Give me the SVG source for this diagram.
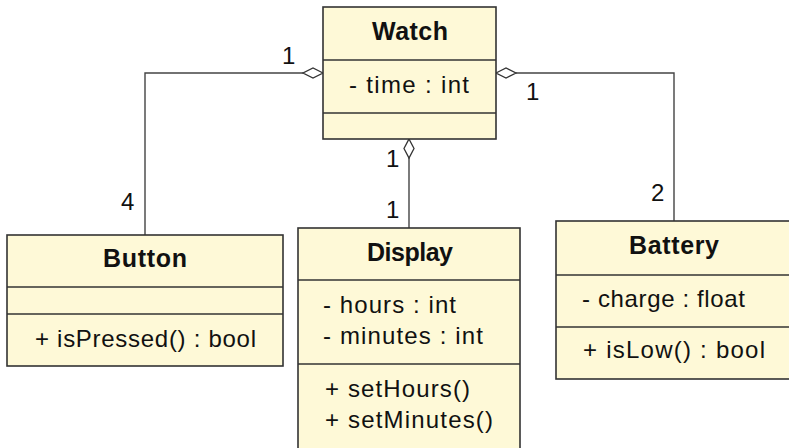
<svg xmlns="http://www.w3.org/2000/svg" width="789" height="448" viewBox="0 0 789 448">
<style>
.box{fill:#fef9d7;stroke:#333;stroke-width:1.6}
.div{stroke:#333;stroke-width:1.4}
.t{font-family:"Liberation Sans",Arial,sans-serif;font-size:24px;fill:#111}
.b{font-weight:bold;text-anchor:middle;font-size:25px}
.con{fill:none;stroke:#444;stroke-width:1.4}
.dia{fill:#fff;stroke:#333;stroke-width:1.3}
</style>
<rect width="789" height="448" fill="#fff"/>
<g id="connectors">
<polyline class="con" points="303,73 145,73 145,235"/>
<polyline class="con" points="516,73 674,73 674,221"/>
<line class="con" x1="409" y1="158" x2="409" y2="228"/>
<polygon class="dia" points="323,73 313,68 303,73 313,78"/>
<polygon class="dia" points="496,73 506,68 516,73 506,78"/>
<polygon class="dia" points="409,139 414,148.5 409,158 404,148.5"/>
<text class="t" x="282" y="64">1</text>
<text class="t" x="526" y="100">1</text>
<text class="t" x="386" y="167">1</text>
<text class="t" x="386" y="218">1</text>
<text class="t" x="121" y="210">4</text>
<text class="t" x="651" y="201">2</text>
</g>
<g id="watch">
<rect class="box" x="323" y="7" width="173" height="132"/>
<line class="div" x1="323" y1="60" x2="496" y2="60"/>
<line class="div" x1="323" y1="113" x2="496" y2="113"/>
<text class="t b" x="410" y="40" textLength="76">Watch</text>
<text class="t" x="349" y="93" textLength="120">- time : int</text>
</g>
<g id="button">
<rect class="box" x="7" y="235" width="276" height="131"/>
<line class="div" x1="7" y1="287" x2="283" y2="287"/>
<line class="div" x1="7" y1="314" x2="283" y2="314"/>
<text class="t b" x="145" y="267" textLength="84">Button</text>
<text class="t" x="35" y="347" textLength="221">+ isPressed() : bool</text>
</g>
<g id="display">
<rect class="box" x="298" y="228" width="222" height="225"/>
<line class="div" x1="298" y1="280" x2="520" y2="280"/>
<line class="div" x1="298" y1="364" x2="520" y2="364"/>
<text class="t b" x="410" y="261" textLength="86">Display</text>
<text class="t" x="323" y="313" textLength="133">- hours : int</text>
<text class="t" x="323" y="344" textLength="160">- minutes : int</text>
<text class="t" x="325" y="397" textLength="145">+ setHours()</text>
<text class="t" x="325" y="428" textLength="168">+ setMinutes()</text>
</g>
<g id="battery">
<rect class="box" x="556" y="221" width="240" height="158"/>
<line class="div" x1="556" y1="275" x2="796" y2="275"/>
<line class="div" x1="556" y1="327" x2="796" y2="327"/>
<text class="t b" x="674" y="254" textLength="90">Battery</text>
<text class="t" x="582" y="307" textLength="163">- charge : float</text>
<text class="t" x="583" y="358" textLength="182">+ isLow() : bool</text>
</g>
</svg>
